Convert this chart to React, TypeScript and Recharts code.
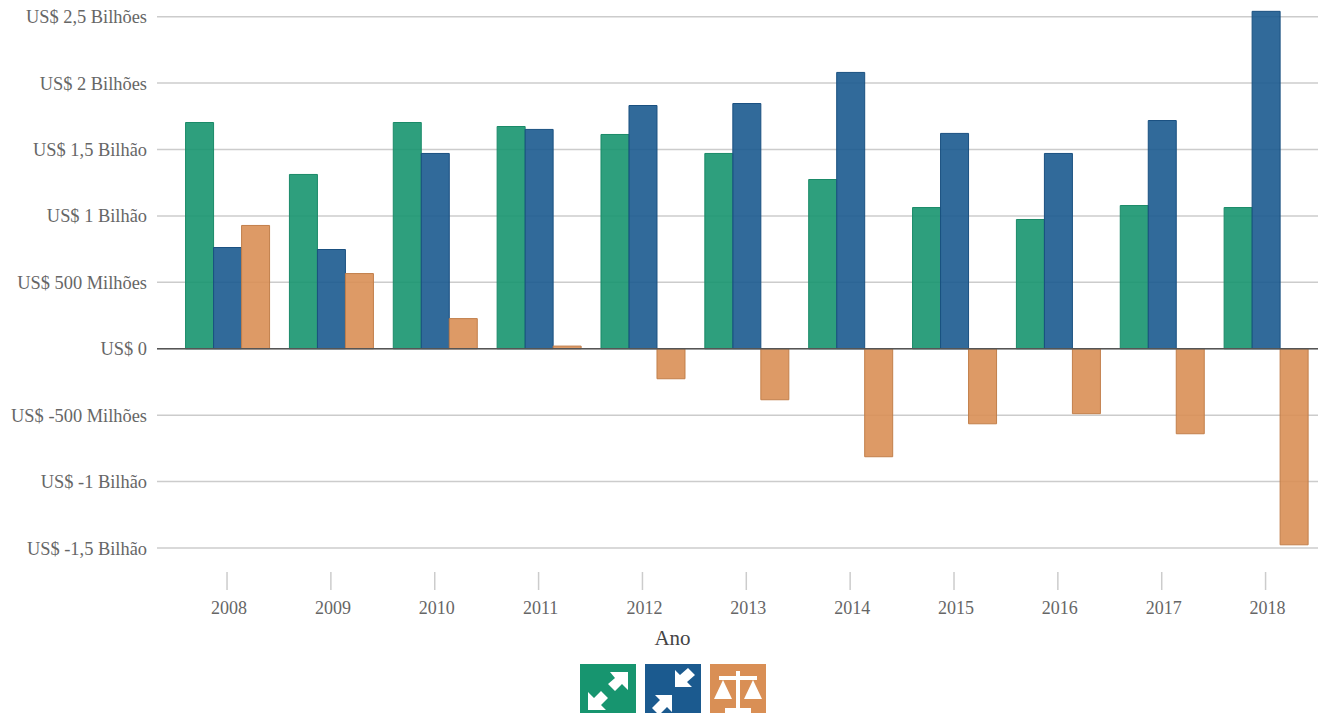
import React from "react";
import { BarChart, Bar, XAxis, YAxis, CartesianGrid, ReferenceLine, Legend } from "recharts";

const years = ["2008", "2009", "2010", "2011", "2012", "2013", "2014", "2015", "2016", "2017", "2018"];
const exportsB = [1.703, 1.312, 1.703, 1.673, 1.613, 1.47, 1.274, 1.063, 0.973, 1.078, 1.063];
const importsB = [0.762, 0.747, 1.47, 1.651, 1.831, 1.846, 2.08, 1.621, 1.47, 1.718, 2.54];
const balanceB = [0.928, 0.566, 0.227, 0.02, -0.226, -0.384, -0.813, -0.565, -0.489, -0.64, -1.476];
const yTicks = [-1.5, -1, -0.5, 0, 0.5, 1, 1.5, 2, 2.5];
const yLabels = [
  "US$ -1,5 Bilhão",
  "US$ -1 Bilhão",
  "US$ -500 Milhões",
  "US$ 0",
  "US$ 500 Milhões",
  "US$ 1 Bilhão",
  "US$ 1,5 Bilhão",
  "US$ 2 Bilhões",
  "US$ 2,5 Bilhões",
];

const data = years.map((ano, i) => ({
  ano,
  exportacoes: exportsB[i],
  importacoes: importsB[i],
  saldo: balanceB[i],
}));

const FONT = "'Liberation Serif', 'Times New Roman', serif";
const GREEN = "#17956f";
const BLUE = "#1b5a8f";
const ORANGE = "#d98f55";

const XTick = (props: any) => {
  const { x, y, payload } = props;
  return (
    <g>
      <line x1={x - 0.5} x2={x - 0.5} y1={y + 16} y2={y + 34} stroke="#ccc" strokeWidth={1.5} />
      <text x={x + 1.5} y={y + 58} textAnchor="middle" fontFamily={FONT} fontSize={18} fill="#666">
        {payload.value}
      </text>
    </g>
  );
};

const Icon = ({ k }: { k: string }) => {
  const bg = k === "exportacoes" ? GREEN : k === "importacoes" ? BLUE : ORANGE;
  return (
    <svg width={56} height={56} viewBox="0 0 56 56" style={{ display: "block" }}>
      <rect x={0} y={0} width={56} height={56} fill={bg} />
      {k === "exportacoes" && (
        <g fill="#fff">
          <path d="M30 8 H48 V26 L42 20 L35 27 L28 20 L35 14 Z" />
          <path d="M8 46 V28 L14 34 L21 27 L28 34 L21 41 L26 46 Z" />
        </g>
      )}
      {k === "importacoes" && (
        <g fill="#fff">
          <path d="M30 23 V6 L35 11 L43 4 L50 11 L42 18 L47 23 Z" />
          <path d="M27 31 V48 L22 43 L14 51 L7 44 L15 36 L10 31 Z" />
        </g>
      )}
      {k === "saldo" && (
        <g fill="#fff">
          <rect x={26} y={7} width={4} height={40} />
          <rect x={9} y={12} width={38} height={4} />
          <rect x={15} y={44} width={26} height={5} />
          <path d="M13 16 L22 35 H4 Z" />
          <path d="M43 16 L52 35 H34 Z" />
        </g>
      )}
    </svg>
  );
};

const LegendIcons = (props: any) => (
  <div style={{ display: "flex", justifyContent: "center", gap: 9, marginLeft: 24 }}>
    {(props.payload || []).map((p: any) => (
      <Icon key={p.dataKey} k={p.dataKey} />
    ))}
  </div>
);

export default function App() {
  return (
    <div style={{ position: "absolute", left: 0, top: 0, width: 1321, height: 713, overflow: "hidden" }}>
      <BarChart
        width={1321}
        height={713}
        data={data}
        margin={{ top: 10, right: 3, left: 0, bottom: 0 }}
        barGap={0}
        barCategoryGap="9.6%"
      >
        <CartesianGrid vertical={false} horizontalValues={yTicks} stroke="#ccc" strokeWidth={1.5} />
        <XAxis
          dataKey="ano"
          padding={{ left: 18.6, right: 0 }}
          axisLine={false}
          tickLine={false}
          tick={<XTick />}
          interval={0}
          height={109}
          label={{
            value: "Ano",
            position: "insideTop",
            dy: 77,
            dx: -65,
            fontFamily: FONT,
            fontSize: 21,
            fill: "#444",
          }}
        />
        <YAxis
          width={157}
          domain={[-1.5, 2.55]}
          ticks={yTicks}
          interval={0}
          axisLine={false}
          tickLine={false}
          tickMargin={4}
          tickFormatter={(v: number) => yLabels[yTicks.indexOf(v)]}
          tick={{ fontFamily: FONT, fontSize: 18.4, fill: "#666" }}
        />
        <ReferenceLine y={0} stroke="#555" strokeWidth={1.5} />
        <Bar dataKey="exportacoes" name="Exportações" fill={GREEN} fillOpacity={0.9} stroke="#1a8a68" isAnimationActive={false} />
        <Bar dataKey="importacoes" name="Importações" fill={BLUE} fillOpacity={0.9} stroke="#1a5080" isAnimationActive={false} />
        <Bar dataKey="saldo" name="Saldo" fill={ORANGE} fillOpacity={0.9} stroke="#c27f4b" isAnimationActive={false} />
        <Legend
          verticalAlign="bottom"
          content={<LegendIcons />}
          wrapperStyle={{ position: "absolute", left: 0, top: 664, width: 1321, height: 56 }}
        />
      </BarChart>
    </div>
  );
}
